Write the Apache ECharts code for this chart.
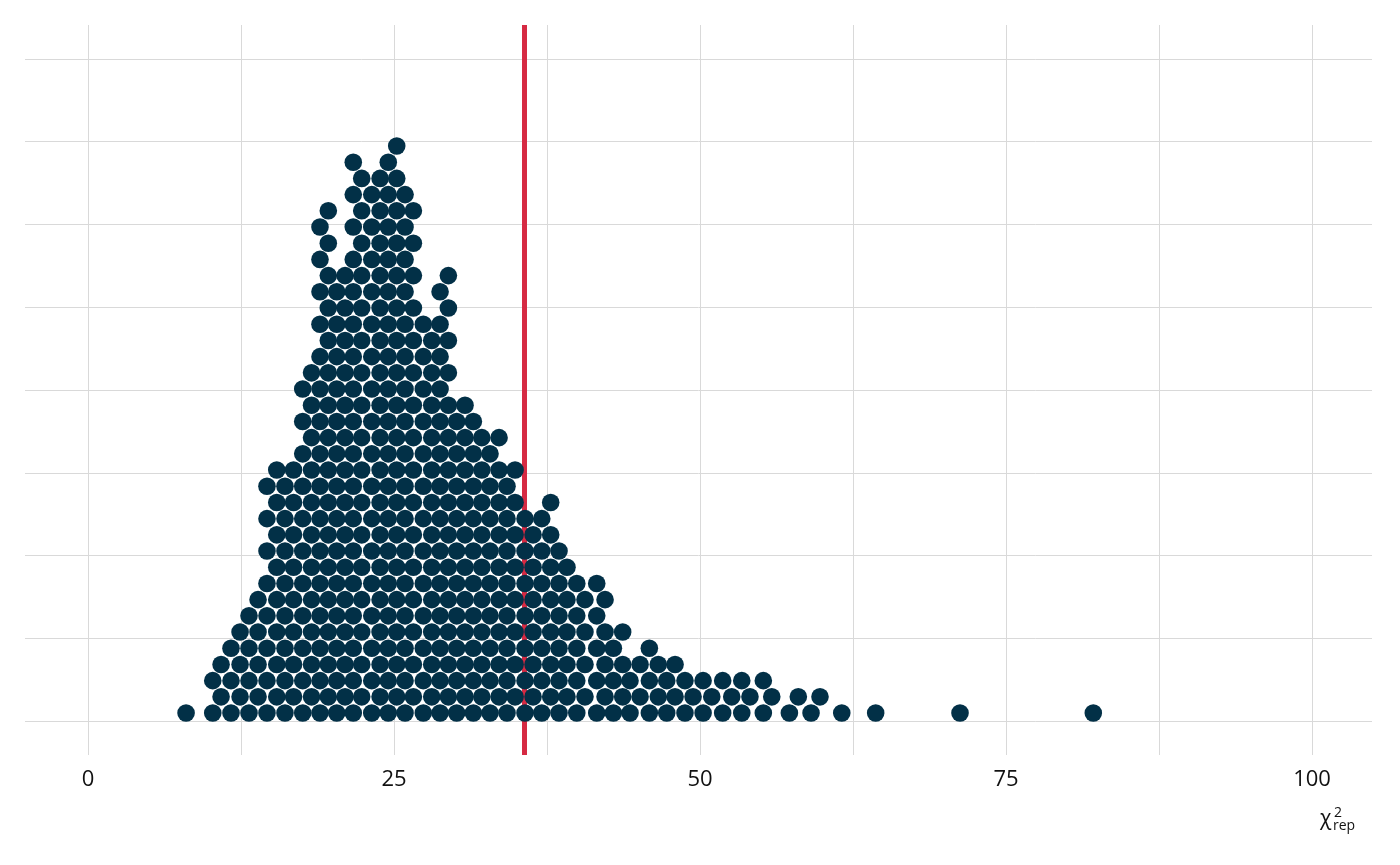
<!DOCTYPE html>
<html><head><meta charset="utf-8">
<script src="https://cdn.jsdelivr.net/npm/echarts@6/dist/echarts.min.js"></script>
<style>html,body{margin:0;padding:0;background:#fff}#c{width:1400px;height:865px}</style>
</head><body><div id="c"></div>
<script>
// column x positions (chi^2 rep value) and top stack level of each dot column
const colX = [8.01,10.19,10.87,11.68,12.42,13.15,13.89,14.62,15.42,16.09,16.79,17.54,18.26,18.95,19.63,20.32,21.00,21.67,22.36,23.18,23.86,24.53,25.22,25.90,26.58,27.39,28.08,28.76,29.44,30.12,30.80,31.48,32.17,32.84,33.58,34.23,34.89,35.70,36.36,37.07,37.80,38.48,39.13,39.93,40.60,41.56,42.24,42.92,43.68,44.28,45.10,45.86,46.59,47.28,47.96,48.77,49.43,50.25,50.96,51.85,52.59,53.41,54.08,55.17,55.86,57.30,58.03,59.07,59.80,61.58,64.35,71.24,82.13];
const colTop = [0,2,3,4,5,6,7,14,15,14,15,20,21,30,31,26,27,34,33,32,33,34,35,32,31,24,23,26,27,18,19,18,17,16,17,14,15,12,11,12,13,10,9,8,7,8,7,4,5,2,3,4,3,2,3,2,1,2,1,2,1,2,1,2,1,0,1,0,1,0,0,0,0];
const observed = 35.6;
const xTicks = [0,25,50,75,100];
const xGrid = [0,12.5,25,37.5,50,62.5,75,87.5,100];
const yGridCount = 9;
const yGridStep = 5.108;

const pts = [];
colX.forEach((x,i)=>{ for(let L=colTop[i]%2; L<=colTop[i]; L+=2) pts.push([x, L+0.49]); });

const gridLines = [];
xGrid.forEach(v=>gridLines.push({xAxis:v}));
for(let k=0;k<yGridCount;k++) gridLines.push({yAxis:k*yGridStep});

const chart = echarts.init(document.getElementById('c'));
chart.setOption({
  animation:false,
  grid:{left:25,right:28,top:25,bottom:110},
  xAxis:{type:'value',min:-5.15,max:104.9,splitLine:{show:false},axisLine:{show:false},axisTick:{show:false},
    axisLabel:{customValues:xTicks,fontFamily:'Open Sans',fontSize:22,color:'#111',margin:14}},
  yAxis:{type:'value',min:-2.1,max:42.96,show:false},
  series:[
    {type:'line',data:[],z:1,markLine:{silent:true,symbol:'none',label:{show:false},lineStyle:{color:'#d9d9d9',width:1,type:'solid'},data:gridLines}},
    {type:'scatter',data:pts,symbolSize:17.6,itemStyle:{color:'#023047',opacity:1},z:5},
    {type:'line',data:[],z:10,markLine:{silent:true,symbol:'none',label:{show:false},lineStyle:{color:'#d62a43',width:5,type:'solid',opacity:1},data:[{xAxis:observed}]}}
  ],
  graphic:[
    {type:'text',left:1320,top:809,style:{text:'χ',font:'21px "Open Sans"',fill:'#111'}},
    {type:'text',left:1334,top:806,style:{text:'2',font:'14px "Open Sans"',fill:'#111'}},
    {type:'text',left:1333,top:819,style:{text:'rep',font:'14px "Open Sans"',fill:'#111'}}
  ]
});
</script></body></html>
